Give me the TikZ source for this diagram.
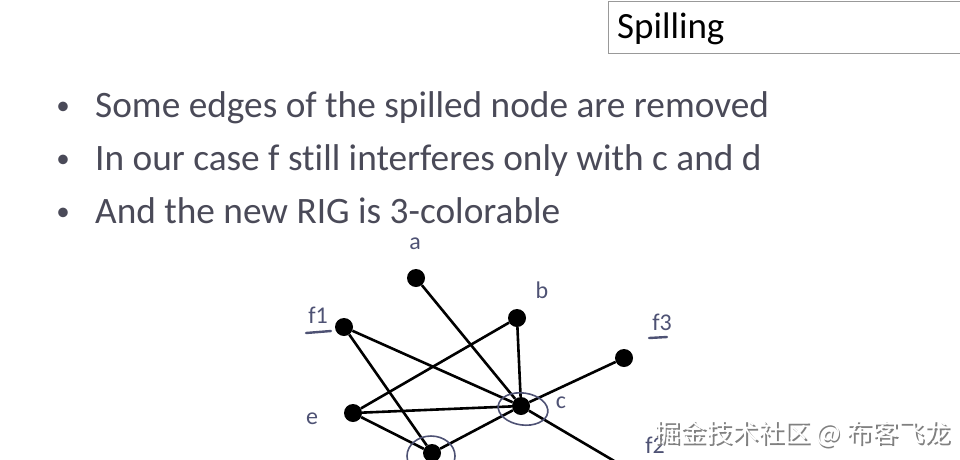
\documentclass[tikz,border=0pt]{standalone}
\usepackage{fontspec}
\setmainfont{Carlito}[Ligatures=CommonOff]
\newfontfamily\cjk{Noto Sans CJK SC}
\usetikzlibrary{positioning}
\definecolor{bodygray}{HTML}{4A4A58}
\definecolor{penslate}{HTML}{4E5274}
\tikzset{
  vertex/.style={circle,fill=black,inner sep=0,minimum size=18pt},
  vlabel/.style={text=penslate,inner sep=0,font=\fontsize{24}{24}\selectfont},
  edge/.style={line width=2.6pt,black},
  penmark/.style={penslate,line width=1.6pt},
  pennote/.style={penslate,line width=2.4pt,line cap=round},
  bullet/.style={anchor=base,text=bodygray,font=\fontsize{27}{27}\selectfont},
  bodyline/.style={anchor=base west,text=bodygray,inner sep=0,font=\fontsize{37.3}{37.3}\selectfont},
  watermark/.style={anchor=west,inner sep=0,font=\cjk\fontsize{26}{26}\selectfont}
}

\begin{document}
\begin{tikzpicture}[x=1pt,y=-1pt]
  \useasboundingbox (0,0) rectangle (960,459);
  \clip (0,0) rectangle (960,459);

  % Title box
  \draw[gray!80,line width=0.8pt] (608,1) rectangle (970,53);
  \node[anchor=base west,inner sep=0,font=\fontsize{37}{37}\selectfont] (title) at (617,38) {Spilling};

  % Bullets
  \node[bullet] (d1) at (63,114) {•};
  \node[bodyline] (t1) at (95,117) {Some edges of the spilled node are removed};
  \node[bullet] (d2) at (63,167) {•};
  \node[bodyline] (t2) at (95,170) {In our case f still interferes only with c and d};
  \node[bullet] (d3) at (63,220) {•};
  \node[bodyline] (t3) at (95,223) {And the new RIG is 3-colorable};

  % Graph nodes
  \node[vertex] (a) at (416,278) {};
  \node[vertex] (b) at (517,318) {};
  \node[vertex] (f1) at (344,327) {};
  \node[vertex] (f3) at (624,358) {};
  \node[vertex] (c) at (521,406) {};
  \node[vertex] (e) at (353,413) {};
  \node[vertex] (d) at (432,453) {};
  \coordinate (f2) at (660,488);

  % Edges
  \draw[edge] (a) -- (c);
  \draw[edge] (b) -- (c);
  \draw[edge] (b) -- (e);
  \draw[edge] (f1) -- (c);
  \draw[edge] (f1) -- (d);
  \draw[edge] (e) -- (c);
  \draw[edge] (e) -- (d);
  \draw[edge] (c) -- (d);
  \draw[edge] (c) -- (f3);
  \draw[edge] (c) -- (f2);

  % Handwritten marks
  \draw[penmark,rotate around={-8:(523,409)}] (523,409) ellipse (25 and 16);
  \draw[penmark] (431,456) ellipse (24 and 20);

  % Labels
  \node[vlabel] (la) at (415,244) {a};
  \node[vlabel] (lb) at (542,290) {b};
  \node[vlabel] (lc) at (561,403) {c};
  \node[vlabel] (le) at (312,419) {e};
  \node[vlabel] (lf1) at (318,315) {f1};
  \node[vlabel] (lf3) at (662,322) {f3};
  \node[vlabel] (lf2) at (655,445) {f2};
  \draw[pennote] (306,333) -- (331,331);
  \draw[pennote] (649,338) -- (667,337);

  % Watermark
  \node[watermark,text=gray] (wm2) at (655.8,435.8) {掘金技术社区 @ 布客飞龙};
  \node[watermark,text=white] (wm) at (654,434) {掘金技术社区 @ 布客飞龙};
\end{tikzpicture}
\end{document}
